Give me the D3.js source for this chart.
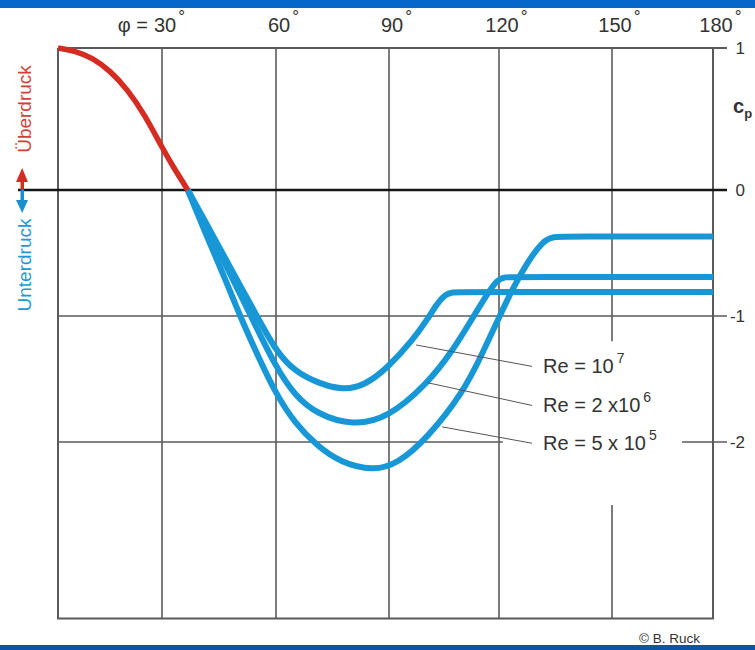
<!DOCTYPE html>
<html>
<head>
<meta charset="utf-8">
<script src="https://cdn.jsdelivr.net/npm/d3@7"></script>
<style>
body { margin: 0; background: #fff; }
svg { display: block; font-family: "Liberation Sans", Arial, sans-serif; }
</style>
</head>
<body>
<script>
"use strict"

let svgWidth = 755;
let svgHeight = 650;

// tick values: angle along the top (degrees), cp on the right
let angleTicks = [30, 60, 90, 120, 150, 180];
let cpTicks = [1, 0, -1, -2];
let cpBottom = -3.4; // lowest cp shown by the frame

// curves, [angle in degrees, cp]
let overpressure = [[0, 1], [5, 0.98], [10, 0.93], [15, 0.84], [20, 0.71], [25, 0.53], [30, 0.30], [33, 0.16], [36.8, 0]];
let re1e7 = [[36.8, 0], [43.2, -0.35], [48.4, -0.64], [55, -1.0], [60, -1.28], [65, -1.44], [70.9, -1.53], [77.8, -1.59],
    [83.6, -1.55], [89.7, -1.41], [96.5, -1.19], [100.4, -1.03], [103.1, -0.90], [105.3, -0.83], [107.2, -0.81],
    [110, -0.81], [180, -0.81]];
let re2e6 = [[36.8, 0], [42.6, -0.35], [47.9, -0.66], [53.4, -1.0], [60, -1.41], [65, -1.63], [70.9, -1.78], [80.4, -1.87],
    [89.7, -1.81], [100.4, -1.54], [107.5, -1.27], [112.9, -1.01], [116.7, -0.83], [119.5, -0.71], [121.6, -0.69],
    [124.5, -0.69], [180, -0.69]];
let re5e5 = [[36.8, 0], [41.8, -0.37], [46.3, -0.68], [50.5, -1.0], [55.3, -1.32], [60, -1.62], [65, -1.85], [70.9, -2.03],
    [77, -2.16], [85.8, -2.23], [92.5, -2.17], [100.4, -1.97], [110.2, -1.61], [115.6, -1.29], [119.7, -1.03],
    [123.5, -0.79], [127.4, -0.58], [131.7, -0.40], [134.6, -0.37], [137.5, -0.37], [180, -0.37]];

// labels for the three Reynolds numbers
let reNames = ["Re = 10", "Re = 2 x10", "Re = 5 x 10"];
let reExponents = ["7", "6", "5"];
let leaderFrom = [[97.4, -1.23], [100.6, -1.53], [104.5, -1.88]]; // where each leader touches its curve
let labelCp = [-1.45, -1.76, -2.06];
let labelAngle = 131.7;

let gridColor = "#5a5a5a";
let blue = "#1797d6";
let red = "#d42b22";

let svg = d3.select("body")
    .append("svg")
    .attr("width", svgWidth)
    .attr("height", svgHeight);

svg.append("rect")
    .attr("width", svgWidth)
    .attr("height", svgHeight)
    .attr("fill", "#fff");

/* the original drawing is not evenly spaced, so both scales are piecewise */
let xScale = d3.scaleLinear()
    .domain([0, 30, 60, 90, 120, 150, 180])
    .range([58, 162, 276, 389, 499, 612, 713]);

let yScale = d3.scaleLinear()
    .domain([1, 0, -1, -2])
    .range([48, 190, 316, 442]);

let plotLeft = xScale(0);
let plotRight = xScale(180);
let plotTop = yScale(1);
let plotBottom = yScale(cpBottom);
let tickOut = 14;

// blue bars at top and bottom of the slide
svg.append("rect").attr("x", 0).attr("y", 0).attr("width", svgWidth).attr("height", 8).attr("fill", "#0567c9");
svg.append("rect").attr("x", 0).attr("y", 645).attr("width", svgWidth).attr("height", 5).attr("fill", "#0c54a6");

// vertical grid
svg.selectAll(null)
    .data(angleTicks.filter(d => d < 180))
    .join("line")
    .attr("x1", d => xScale(d))
    .attr("x2", d => xScale(d))
    .attr("y1", plotTop)
    .attr("y2", plotBottom)
    .attr("stroke", gridColor)
    .attr("stroke-width", 1.6);

// horizontal grid with ticks sticking out to the right
svg.selectAll(null)
    .data(cpTicks.filter(d => d !== 0))
    .join("line")
    .attr("x1", plotLeft)
    .attr("x2", plotRight + tickOut)
    .attr("y1", d => yScale(d))
    .attr("y2", d => yScale(d))
    .attr("stroke", gridColor)
    .attr("stroke-width", d => d === 1 ? 2 : 1.6);

// frame: left, right, bottom
svg.append("path")
    .attr("d", `M${plotLeft},${plotTop}V${plotBottom}H${plotRight}V${plotTop}`)
    .attr("fill", "none")
    .attr("stroke", gridColor)
    .attr("stroke-width", 2);

// white box behind the Reynolds labels (it hides the grid there)
svg.append("rect")
    .attr("x", xScale(121))
    .attr("y", yScale(-1.2))
    .attr("width", xScale(170.8) - xScale(121))
    .attr("height", yScale(-2.5) - yScale(-1.2))
    .attr("fill", "#fff");

// zero line, runs out to the arrows on the left
svg.append("line")
    .attr("x1", 18)
    .attr("x2", plotRight + tickOut)
    .attr("y1", yScale(0))
    .attr("y2", yScale(0))
    .attr("stroke", "#151515")
    .attr("stroke-width", 2.5);

// basis curve keeps the hand drawn curves smooth
let line = d3.line()
    .x(d => xScale(d[0]))
    .y(d => yScale(d[1]))
    .curve(d3.curveBasis);

svg.selectAll(null)
    .data([re5e5, re2e6, re1e7])
    .join("path")
    .attr("d", line)
    .attr("fill", "none")
    .attr("stroke", blue)
    .attr("stroke-width", 6);

svg.append("path")
    .attr("d", line(overpressure))
    .attr("fill", "none")
    .attr("stroke", red)
    .attr("stroke-width", 5.5);

// leader lines + labels
for (let i = 0; i < 3; i++) {
    svg.append("line")
        .attr("x1", xScale(leaderFrom[i][0]))
        .attr("y1", yScale(leaderFrom[i][1]))
        .attr("x2", xScale(labelAngle) - 11)
        .attr("y2", yScale(labelCp[i] + 0.05))
        .attr("stroke", "#555")
        .attr("stroke-width", 1);

    let label = svg.append("text")
        .attr("x", xScale(labelAngle))
        .attr("y", yScale(labelCp[i]))
        .attr("font-size", 20)
        .attr("fill", "#333");
    label.append("tspan").text(reNames[i]);
    label.append("tspan")
        .attr("dx", 3)
        .attr("dy", -10)
        .attr("font-size", 14)
        .text(reExponents[i]);
}

// angle labels along the top
angleTicks.forEach(function (d) {
    let cx = xScale(d) + 3;
    let num = svg.append("text")
        .attr("x", cx)
        .attr("y", 32)
        .attr("text-anchor", "middle")
        .attr("font-size", 20)
        .attr("fill", "#333")
        .text(d);
    let w = num.node().getComputedTextLength();
    svg.append("text")
        .attr("x", cx + w / 2 + 2)
        .attr("y", 22)
        .attr("font-size", 17)
        .attr("fill", "#333")
        .text("°");
    if (d === 30) {
        svg.append("text")
            .attr("x", cx - w / 2 - 6)
            .attr("y", 32)
            .attr("text-anchor", "end")
            .attr("font-size", 20)
            .attr("fill", "#333")
            .text("φ =");
    }
});

// cp labels on the right
svg.selectAll(null)
    .data(cpTicks)
    .join("text")
    .attr("x", 745)
    .attr("y", d => yScale(d) + 6)
    .attr("text-anchor", "end")
    .attr("font-size", 17)
    .attr("fill", "#333")
    .text(d => String(d));

// c_p, squeezed in at the right edge
let cpLabel = svg.append("text")
    .attr("x", 733)
    .attr("y", 113)
    .attr("font-size", 20)
    .attr("font-weight", "bold")
    .attr("fill", "#333");
cpLabel.append("tspan").text("c");
cpLabel.append("tspan").attr("dy", 5).attr("font-size", 13).text("p");

// Überdruck / Unterdruck on the left with the arrows
let y0 = yScale(0);
svg.append("text")
    .attr("transform", `translate(31,${y0 - 81}) rotate(-90)`)
    .attr("text-anchor", "middle")
    .attr("font-size", 19)
    .attr("fill", "#d2403a")
    .text("Überdruck");

svg.append("text")
    .attr("transform", `translate(31,${y0 + 75}) rotate(-90)`)
    .attr("text-anchor", "middle")
    .attr("font-size", 19)
    .attr("fill", "#1e98d6")
    .text("Unterdruck");

svg.append("rect").attr("x", 20.5).attr("y", y0 - 9).attr("width", 3.5).attr("height", 9).attr("fill", red);
svg.append("path")
    .attr("d", `M16,${y0 - 8}L28,${y0 - 8}L22.2,${y0 - 22}Z`)
    .attr("fill", red);
svg.append("rect").attr("x", 20.5).attr("y", y0).attr("width", 3.5).attr("height", 11).attr("fill", "#1a8fd0");
svg.append("path")
    .attr("d", `M16,${y0 + 10}L28,${y0 + 10}L22.2,${y0 + 23}Z`)
    .attr("fill", "#1a8fd0");

// credit
svg.append("text")
    .attr("x", 639)
    .attr("y", 643)
    .attr("font-size", 13.5)
    .attr("fill", "#333")
    .text("© B. Ruck");
</script>
</body>
</html>
